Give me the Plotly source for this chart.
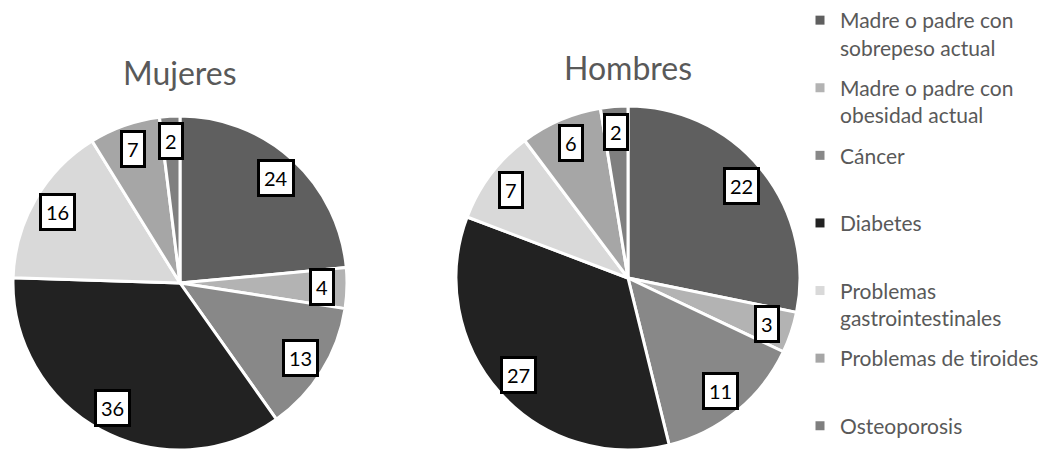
import math
import plotly.graph_objects as go

# Categorías (en el orden de los sectores, sentido horario desde las 12)
categorias = [
    "Madre o padre con<br>sobrepeso actual",
    "Madre o padre con<br>obesidad actual",
    "Cáncer",
    "Diabetes",
    "Problemas<br>gastroint\u200cest\u200cinales",
    "Problemas de t\u200ciroides",
    "Osteoporosis",
]
mujeres = [24, 4, 13, 36, 16, 7, 2]
hombres = [22, 3, 11, 27, 7, 6, 2]
grises = ["#5f5f5f", "#b3b3b3", "#888888", "#222222", "#d9d9d9", "#a6a6a6", "#7f7f7f"]

W, H = 1046, 450
FUENTE = "Lato"
GRIS_TEXTO = "#595959"

# Dominios de cada tarta (fracciones del lienzo)
dom_m = dict(x=[13 / W, 347 / W], y=[0, 334 / H])
dom_h = dict(x=[456 / W, 800 / W], y=[0, 344 / H])

fig = go.Figure()
for nombre, valores, dom in [("Mujeres", mujeres, dom_m), ("Hombres", hombres, dom_h)]:
    fig.add_trace(go.Pie(
        labels=[c.replace("<br>", " ").replace("\u200c", "") for c in categorias],
        values=valores,
        name=nombre,
        sort=False,
        direction="clockwise",
        rotation=0,
        domain=dom,
        marker=dict(colors=grises, line=dict(color="white", width=3)),
        textinfo="none",
        hoverinfo="label+value",
        showlegend=False,
    ))

# Leyenda: una entrada por categoría, todas con la misma altura (dos líneas)
n = len(categorias)
for i, (cat, color) in enumerate(zip(categorias, grises)):
    texto = cat if ("<br>" in cat or i == n - 1) else cat + "<br> "
    fig.add_trace(go.Scatter(
        x=[None], y=[None], mode="markers",
        marker=dict(symbol="square", size=9, color=color),
        name=texto, legendgroup=f"g{i}", showlegend=True, hoverinfo="skip",
    ))

# Rótulos con recuadro situados en el punto medio de cada sector
def rotulos(valores, dom, frac=0.85):
    x0, x1 = dom["x"][0] * W, dom["x"][1] * W
    y0, y1 = dom["y"][0] * H, dom["y"][1] * H
    cx, cy = (x0 + x1) / 2, (y0 + y1) / 2
    r = min(x1 - x0, y1 - y0) / 2
    total = sum(valores)
    acum = 0
    for v in valores:
        ang = (acum + v / 2) / total * 2 * math.pi
        acum += v
        px = cx + frac * r * math.sin(ang)
        py = cy + frac * r * math.cos(ang)
        fig.add_annotation(
            x=px / W, y=py / H, xref="paper", yref="paper",
            xanchor="center", yanchor="middle",
            text=str(v), showarrow=False,
            font=dict(family=FUENTE, size=20, color="black"),
            bgcolor="white", bordercolor="black", borderwidth=3, borderpad=4,
        )
    return cx

cx_m = rotulos(mujeres, dom_m)
cx_h = rotulos(hombres, dom_h)

# Títulos de cada tarta
for texto, cx, ypx in [("Mujeres", cx_m, 72), ("Hombres", cx_h, 68)]:
    fig.add_annotation(
        x=cx / W, y=1 - ypx / H, xref="paper", yref="paper",
        xanchor="center", yanchor="middle",
        text=texto, showarrow=False,
        font=dict(family=FUENTE, size=32, color=GRIS_TEXTO),
    )

fig.update_layout(
    width=W, height=H,
    margin=dict(l=0, r=0, t=0, b=0),
    paper_bgcolor="white",
    plot_bgcolor="white",
    xaxis=dict(visible=False),
    yaxis=dict(visible=False),
    showlegend=True,
    legend=dict(
        x=800 / W, y=1, xanchor="left", yanchor="top",
        font=dict(family=FUENTE, size=21, color=GRIS_TEXTO),
        valign="top",
        traceorder="grouped",
        tracegroupgap=10,
        itemsizing="trace",
        bgcolor="rgba(0,0,0,0)",
    ),
)

fig.write_html("out.html")
